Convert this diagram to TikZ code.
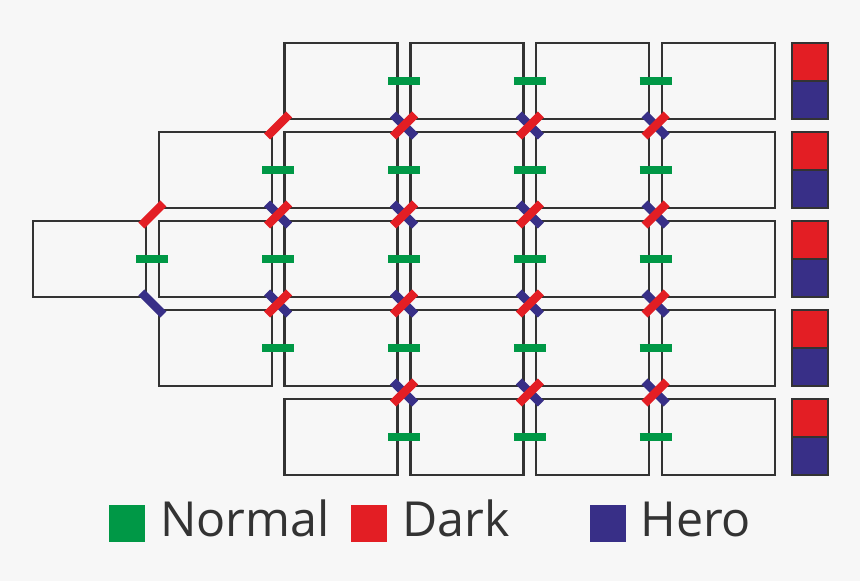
\documentclass[tikz,border=0pt]{standalone}
\usepackage{fontspec}
\setmainfont{Open Sans}
\usetikzlibrary{calc}
\definecolor{bggray}{RGB}{247,247,247}
\definecolor{wallgray}{RGB}{51,51,51}
\definecolor{normalgreen}{RGB}{0,152,70}
\definecolor{darkred}{RGB}{227,30,36}
\definecolor{heroblue}{RGB}{56,47,135}

\begin{document}
\begin{tikzpicture}[
    x=0.02cm, y=-0.02cm,
    room/.style={draw=wallgray, line width=0.048cm, minimum width=2.26cm, minimum height=1.52cm, inner sep=0pt},
    normal/.style={draw=normalgreen, line width=0.17cm},
    dark/.style={draw=darkred, line width=0.17cm},
    hero/.style={draw=heroblue, line width=0.17cm},
    flag/.style={draw=wallgray, line width=0.048cm, minimum width=0.72cm, minimum height=0.76cm, inner sep=0pt},
    key/.style={minimum width=0.72cm, minimum height=0.75cm, inner sep=0pt},
    keylbl/.style={font=\fontsize{27.5}{32}\selectfont, text=wallgray, anchor=base west, inner sep=0pt},
]
% ============================================================
% background (fixes the margins)
% ============================================================
\fill[bggray] (0,0) rectangle (860,581);
\useasboundingbox (0,0) rectangle (860,581);
% ============================================================
% rooms: row / first column
% ============================================================
\foreach \r/\first in {1/3, 2/2, 3/1, 4/2, 5/3} {
    \foreach \c in {\first,...,6} {
        \node[room] (room-\r-\c) at ({89.5+125.8*(\c-1)}, {81+89*(\r-1)}) {};
    }
}
% ============================================================
% normal doors between neighbours in a row
% ============================================================
\foreach \r/\first in {1/3, 2/2, 3/1, 4/2, 5/3} {
    \foreach \c in {\first,...,5} {
        \pgfmathtruncatemacro{\n}{\c+1}
        \coordinate (door-\r-\c) at ($(room-\r-\c.east)!0.5!(room-\r-\n.west)$);
        \draw[normal] ($(door-\r-\c)+(-16,0)$) -- ($(door-\r-\c)+(16,0)$);
    }
}
% ============================================================
% diagonal doors at the corners: hero first, dark on top
% ============================================================
\foreach \r/\cs in {1/{3,4,5}, 2/{2,3,4,5}, 3/{1,2,3,4,5}, 4/{3,4,5}} {
    \foreach \c in \cs {
        \coordinate (hc-\r-\c) at ({152.4+125.8*(\c-1)}, {125.5+89*(\r-1)});
        \draw[hero] ($(hc-\r-\c)+(-11,-11)$) -- ($(hc-\r-\c)+(11,11)$);
    }
}
\foreach \r/\cs in {1/{2,3,4,5}, 2/{1,2,3,4,5}, 3/{2,3,4,5}, 4/{3,4,5}} {
    \foreach \c in \cs {
        \coordinate (dc-\r-\c) at ({152.4+125.8*(\c-1)}, {125.5+89*(\r-1)});
        \draw[dark] ($(dc-\r-\c)+(-11,11)$) -- ($(dc-\r-\c)+(11,-11)$);
    }
}
% ============================================================
% row flags on the right
% ============================================================
\foreach \r in {1,...,5} {
    \node[flag, fill=darkred] (flag-dark-\r) at (810, {62+89*(\r-1)}) {};
    \node[flag, fill=heroblue] (flag-hero-\r) at (810, {100+89*(\r-1)}) {};
}
% ============================================================
% legend
% ============================================================
\node[key, fill=normalgreen] (key-normal) at (127, 523.5) {};
\node[keylbl] (lbl-normal) at (160, 536) {Normal};
\node[key, fill=darkred] (key-dark) at (369, 523.5) {};
\node[keylbl] (lbl-dark) at (402, 536) {Dark};
\node[key, fill=heroblue] (key-hero) at (608, 523.5) {};
\node[keylbl] (lbl-hero) at (640, 536) {Hero};
\end{tikzpicture}
\end{document}
